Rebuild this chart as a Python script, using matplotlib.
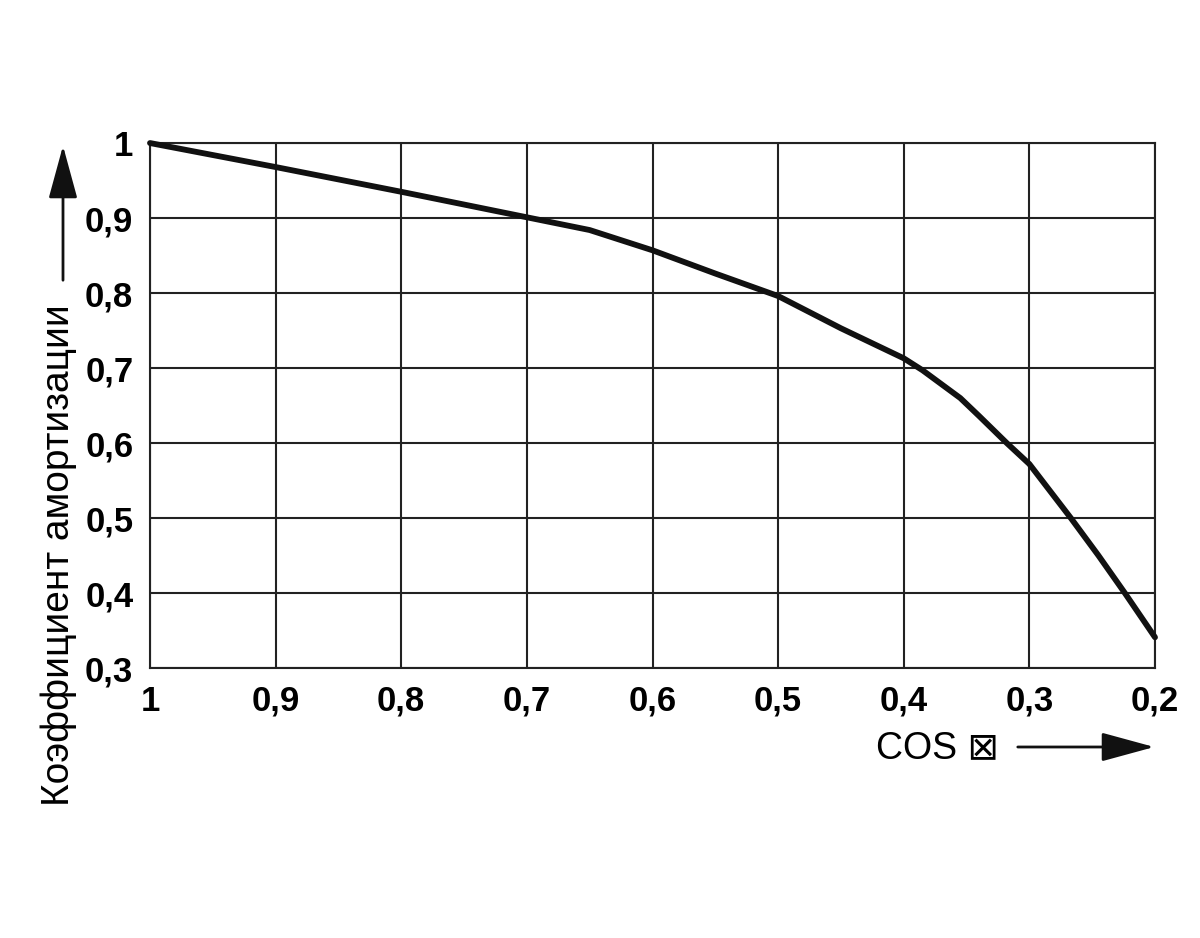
import matplotlib
matplotlib.use("Agg")
import matplotlib.pyplot as plt

plt.rcParams['font.family'] = ['Liberation Sans', 'DejaVu Sans']

# cos(phi) values and the amortization factor
cos_phi = [1.0, 0.9, 0.8, 0.7, 0.65, 0.6, 0.55, 0.5, 0.45, 0.4, 0.385,
           0.355, 0.34, 0.318, 0.3, 0.267, 0.245, 0.224, 0.2]
factor = [1.0, 0.968, 0.935, 0.901, 0.884, 0.857, 0.826, 0.796, 0.753, 0.713, 0.697,
          0.660, 0.636, 0.600, 0.572, 0.500, 0.450, 0.400, 0.341]

xticks = [1.0, 0.9, 0.8, 0.7, 0.6, 0.5, 0.4, 0.3, 0.2]
yticks = [0.3, 0.4, 0.5, 0.6, 0.7, 0.8, 0.9, 1.0]

def lab(v):
    s = f"{v:.1f}".replace(".", ",")
    return "1" if s == "1,0" else s

fig = plt.figure(figsize=(12, 9.38), dpi=100)
ax = fig.add_axes([0.125, 0.2878, 0.8375, 0.5597])

ax.plot(cos_phi, factor, color="#111111", lw=4.2, solid_joinstyle="round",
        solid_capstyle="round", clip_on=False, zorder=3)

ax.set_xlim(1.0, 0.2)
ax.set_ylim(0.3, 1.0)
ax.set_xticks(xticks)
ax.set_yticks(yticks)
ax.set_xticklabels([lab(v) for v in xticks], fontweight="bold", fontsize=25)
ax.set_yticklabels([lab(v) for v in yticks], fontweight="bold", fontsize=25)
ax.tick_params(axis="y", length=0, pad=12)
ax.tick_params(axis="x", length=0, pad=12)
ax.grid(True, color="#222222", lw=1.5)
for sp in ax.spines.values():
    sp.set_linewidth(1.5)
    sp.set_color("#222222")

# y label with arrow
fig.text(59 / 1200, 1 - 555 / 938, "Коэффициент амортизации", rotation=90,
         ha="center", va="center", fontsize=28)
fig.add_artist(matplotlib.patches.FancyArrowPatch(
    (63 / 1200, 1 - 283 / 938), (63 / 1200, 1 - 143 / 938),
    transform=fig.transFigure, arrowstyle="-|>,head_length=22,head_width=6",
    color="#111111", lw=2, mutation_scale=1.5))

# x label with arrow
fig.text(999 / 1200, 1 - 748 / 938, "COS ⊠", ha="right", va="center", fontsize=27)
fig.add_artist(matplotlib.patches.FancyArrowPatch(
    (1015 / 1200, 1 - 747 / 938), (1157 / 1200, 1 - 747 / 938),
    transform=fig.transFigure, arrowstyle="-|>,head_length=22,head_width=6",
    color="#111111", lw=2, mutation_scale=1.5))

fig.savefig("out.png", dpi=100, facecolor="white")
